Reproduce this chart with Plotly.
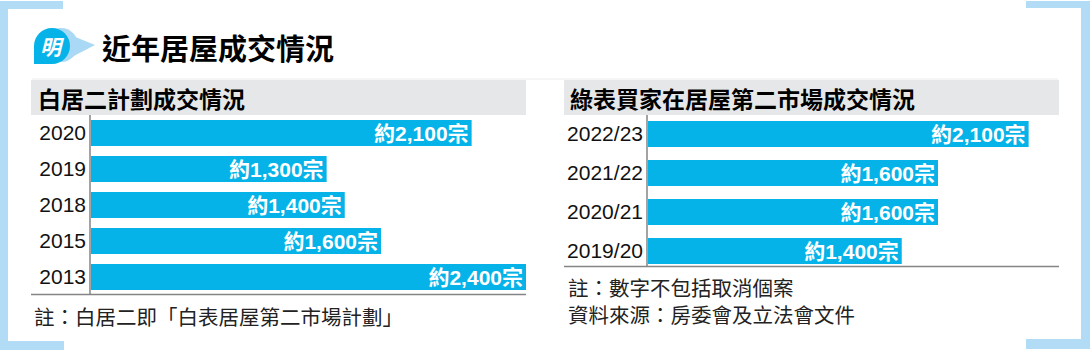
import plotly.graph_objects as go

# ---- data ----
left_title = "白居二計劃成交情況"
left_years = ["2020", "2019", "2018", "2015", "2013"]
left_deals = [2100, 1300, 1400, 1600, 2400]

right_title = "綠表買家在居屋第二市場成交情況"
right_years = ["2022/23", "2021/22", "2020/21", "2019/20"]
right_deals = [2100, 1600, 1600, 1400]

main_title = "近年居屋成交情況"
left_note = "註：白居二即「白表居屋第二市場計劃」"
right_notes = ["註：數字不包括取消個案", "資料來源：房委會及立法會文件"]

# ---- style ----
W, H = 1090, 350
CYAN = "#06b3e8"
PALE = "#b2dcf6"
BAND = "#e6e7e8"
AXIS = "#858585"
LATIN = "Liberation Sans, Arial, Noto Sans CJK TC, sans-serif"
CJK = "Noto Sans CJK TC, sans-serif"


def X(px):
    return px / W


def Y(py):
    return 1 - py / H


def label(v):
    return f"約{v:,}宗"


fig = go.Figure()

fig.add_trace(go.Bar(
    x=left_deals, y=left_years, orientation="h", width=0.72,
    marker=dict(color=CYAN, line=dict(width=0)),
    text=[label(v) for v in left_deals], textposition="inside",
    insidetextanchor="end", constraintext="none", textangle=0,
    textfont=dict(family=LATIN, size=21, color="white", weight="bold"),
    hoverinfo="skip", xaxis="x", yaxis="y",
))
fig.add_trace(go.Bar(
    x=right_deals, y=right_years, orientation="h", width=0.667,
    marker=dict(color=CYAN, line=dict(width=0)),
    text=[label(v) for v in right_deals], textposition="inside",
    insidetextanchor="end", constraintext="none", textangle=0,
    textfont=dict(family=LATIN, size=21, color="white", weight="bold"),
    hoverinfo="skip", xaxis="x2", yaxis="y2",
))

tickfont = dict(family=LATIN, size=21, color="#111")
yax = dict(type="category", autorange="reversed", showgrid=False, zeroline=False,
           showline=False, ticks="", tickfont=tickfont, ticklabelstandoff=4)
xax = dict(range=[0, 2400], visible=False, fixedrange=True)

shapes = []


def rect(x0, y0, x1, y1, color, layer="below"):
    shapes.append(dict(type="rect", xref="paper", yref="paper",
                       x0=X(x0), x1=X(x1), y0=Y(y1), y1=Y(y0),
                       fillcolor=color, line=dict(width=0), layer=layer))


def line(x0, y0, x1, y1, color=AXIS, width=1.5):
    shapes.append(dict(type="line", xref="paper", yref="paper",
                       x0=X(x0), x1=X(x1), y0=Y(y0), y1=Y(y1),
                       line=dict(color=color, width=width), layer="above"))


def circle_path(cx, cy, r, square_corner=False):
    k = 0.5523 * r
    pts = [
        f"M {X(cx + r)},{Y(cy)}",
        f"C {X(cx + r)},{Y(cy - k)} {X(cx + k)},{Y(cy - r)} {X(cx)},{Y(cy - r)}",
        f"C {X(cx - k)},{Y(cy - r)} {X(cx - r)},{Y(cy - k)} {X(cx - r)},{Y(cy)}",
    ]
    if square_corner:
        pts.append(f"L {X(cx - r)},{Y(cy + r)} L {X(cx)},{Y(cy + r)}")
    else:
        pts.append(f"C {X(cx - r)},{Y(cy + k)} {X(cx - k)},{Y(cy + r)} {X(cx)},{Y(cy + r)}")
    pts.append(f"C {X(cx + k)},{Y(cy + r)} {X(cx + r)},{Y(cy + k)} {X(cx + r)},{Y(cy)} Z")
    return " ".join(pts)


# corner brackets
rect(0, 1, 63, 9, PALE)
rect(0, 1, 8, 350, PALE)
rect(0, 341, 64, 350, PALE)
rect(1026, 1, 1090, 8, PALE)
rect(1081, 1, 1090, 349, PALE)
rect(1026, 339, 1090, 349, PALE)

# faint rule under the heading
line(32, 79, 1058, 79, color="#ececec", width=1)

# panel header bands
rect(31, 80, 526, 115, BAND)
rect(564, 80, 1059, 115, BAND)

# axis rules
line(90, 115, 90, 295)
line(31, 294.5, 526, 294.5)
line(647, 115, 647, 267)
line(564, 266.5, 1059, 266.5)

# logo: pale speech tail behind a blue bubble
shapes.append(dict(type="path", xref="paper", yref="paper", path=circle_path(61, 45, 17),
                   fillcolor="#a9d9f5", line=dict(width=0), layer="above"))
shapes.append(dict(type="path", xref="paper", yref="paper",
                   path=f"M {X(68)},{Y(34)} L {X(95)},{Y(45)} L {X(68)},{Y(59)} Z",
                   fillcolor="#a9d9f5", line=dict(width=0), layer="above"))
shapes.append(dict(type="path", xref="paper", yref="paper",
                   path=circle_path(52, 46, 18, square_corner=True),
                   fillcolor=CYAN, line=dict(width=0), layer="above"))

annotations = []


def text(x, y, s, size, bold=False, color="#000", family=CJK, anchor="left"):
    annotations.append(dict(
        x=X(x), y=Y(y), xref="paper", yref="paper", xanchor=anchor, yanchor="middle",
        text=s, showarrow=False, align="left",
        font=dict(family=family, size=size, color=color, weight="bold" if bold else "normal"),
    ))


text(52, 46, "<i>明</i>", 21, bold=True, color="white", anchor="center")
text(100, 47, main_title, 29, bold=True)
text(36, 98, left_title, 23, bold=True)
text(568, 98, right_title, 23, bold=True)
text(32, 316, left_note, 20.5, color="#222")
text(566, 300.5, "<br>".join(right_notes), 20.5, color="#222")

fig.update_layout(
    width=W, height=H, margin=dict(l=0, r=0, t=0, b=0),
    paper_bgcolor="white", plot_bgcolor="rgba(0,0,0,0)",
    showlegend=False, barmode="overlay",
    xaxis=dict(domain=[X(91), X(526)], anchor="y", **xax),
    yaxis=dict(domain=[Y(295), Y(115)], anchor="x", **yax),
    xaxis2=dict(domain=[X(648), X(1083)], anchor="y2", **xax),
    yaxis2=dict(domain=[Y(270.5), Y(114.5)], anchor="x2", **yax),
    shapes=shapes, annotations=annotations,
)

fig.write_html("out.html")
